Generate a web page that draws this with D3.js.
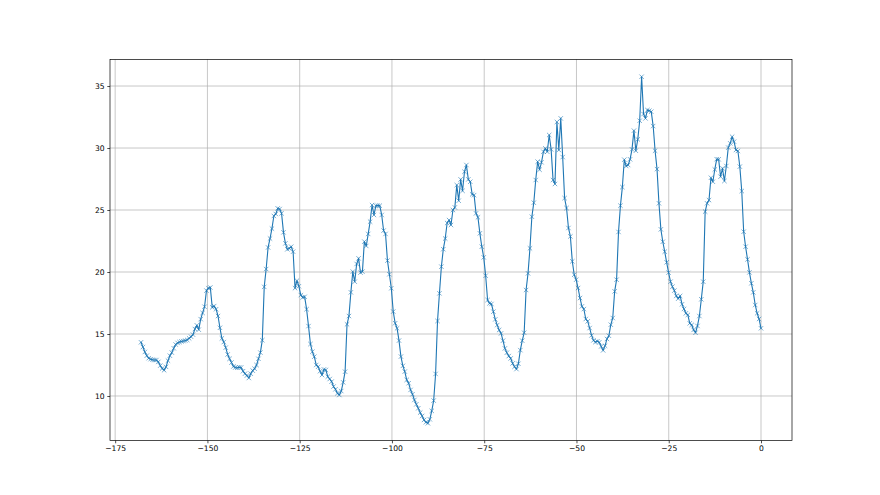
<!DOCTYPE html>
<html>
<head>
<meta charset="utf-8">
<script src="https://cdn.jsdelivr.net/npm/d3@7"></script>
<style>
  html, body { margin: 0; padding: 0; background: #fff; }
  svg { display: block; }
  text { font-family: "DejaVu Sans", sans-serif; }
</style>
</head>
<body>
<svg id="chart" width="880" height="495"></svg>
<script>
// ---- data ----
const startHour = -168;
const endHour = 0;
const values = [
  14.33, 13.95, 13.55, 13.25, 13.05, 12.97, 12.92, 12.9, 12.9,
  12.75, 12.45, 12.22, 12.08, 12.35, 12.85, 13.25, 13.5, 13.85, 14.15,
  14.28, 14.35, 14.4, 14.43, 14.47, 14.52, 14.65, 14.78, 14.95, 15.4,
  15.7, 15.35, 16.2, 16.7, 17.2, 18.5, 18.7, 18.75, 17.15, 17.25,
  17.0, 16.45, 15.5, 14.65, 14.35, 13.9, 13.35, 13.0, 12.7, 12.38,
  12.3, 12.28, 12.31, 12.3, 12.0, 11.8, 11.65, 11.45, 11.8,
  12.05, 12.2, 12.5, 13.0, 13.5, 14.5, 18.8,
  20.24, 21.98, 22.7, 23.5, 24.52, 24.68, 25.13, 25.08, 24.73, 23.2, 22.31, 21.83, 21.9,
  22.04, 21.64, 18.7, 19.3, 18.85, 18.14, 17.95, 18.0, 17.0, 15.64,
  14.19, 13.57, 13.17, 12.5, 12.36, 12.0, 11.69, 12.14, 12.1, 11.56,
  11.37, 11.16, 10.76, 10.54, 10.22, 10.08, 10.4, 11.1, 11.96, 15.78,
  16.45, 18.36, 20.03, 19.22, 20.65, 21.1, 19.95, 20.03, 22.45, 22.1,
  23.07, 24.06, 25.4, 24.6, 25.35, 25.35, 25.35, 24.6, 23.34, 23.07,
  20.92, 19.82, 18.69, 16.81, 15.87, 15.46, 14.47, 13.18, 12.43, 11.97,
  11.3, 11.03, 10.49, 10.14, 9.68, 9.33, 9.01, 8.66, 8.39, 8.07,
  7.88, 7.8, 8.12, 8.8, 9.63, 11.78, 16.05, 18.28, 20.43, 21.84,
  22.7, 23.95, 24.19, 23.79, 25.0, 25.21, 27.01, 25.75, 27.47, 26.55,
  28.09, 28.63, 27.47, 27.28, 26.26, 26.2, 24.73, 24.41, 23.12, 22.04,
  21.18, 19.7, 17.74, 17.47, 17.42, 16.8, 16.18, 15.72, 15.32, 15.05,
  14.46, 13.84, 13.49, 13.22, 13.03, 12.63, 12.36, 12.17, 12.6, 13.7,
  14.46, 15.1, 18.55, 19.89, 21.91, 24.46, 25.59, 27.42, 28.9, 28.25,
  28.85, 29.7, 29.97, 29.7, 31.05, 29.89, 27.42, 27.1, 32.1, 29.84,
  32.39, 29.27, 25.96, 25.16, 23.55, 22.87, 20.86, 19.78, 19.38, 18.71,
  17.9, 17.23, 17.01, 16.21, 16.02, 15.48, 14.89, 14.49, 14.35, 14.41,
  14.33, 14.0, 13.68, 14.05, 14.6, 14.86, 15.75, 16.29, 18.44, 19.38,
  23.23, 25.35, 26.85, 29.06, 28.55, 28.63, 29.09, 29.89, 31.4, 29.78,
  30.7, 32.2, 35.75, 32.74, 32.39, 33.06, 33.01, 32.93, 31.77, 29.78,
  28.3, 25.54, 23.44, 22.44, 21.64, 20.78, 19.95, 19.22, 18.82, 18.5,
  18.07, 17.85, 18.07, 17.4, 17.02, 16.67, 16.54, 15.86, 15.73, 15.33,
  15.1, 15.65, 16.45, 17.8, 19.22, 24.87, 25.54, 25.8, 27.6, 27.28,
  28.27, 29.1, 29.09, 27.69, 28.36, 27.34, 28.55, 30.03, 30.38, 30.91,
  30.51, 29.84, 29.76, 28.5, 26.53, 23.25, 22.04, 21.02, 19.97, 19.09,
  18.36, 17.34, 16.67, 16.21, 15.46
];
const xTicks = [-175, -150, -125, -100, -75, -50, -25, 0];
const yTicks = [10, 15, 20, 25, 30, 35];

(function () {
  // evenly spaced sample times across the week
  const step = (endHour - startHour) / (values.length - 1);
  const points = values.map((v, i) => ({ x: startHour + i * step, y: v }));

  // ---- layout (matplotlib-like default subplot) ----
  const pL = 110, pR = 792, pT = 59.4, pB = 440.6;

  const xExt = d3.extent(points, d => d.x);
  const yExt = d3.extent(points, d => d.y);
  const xPad = (xExt[1] - xExt[0]) * 0.05;
  const yPad = (yExt[1] - yExt[0]) * 0.05;

  const x = d3.scaleLinear().domain([xExt[0] - xPad, xExt[1] + xPad]).range([pL, pR]);
  const y = d3.scaleLinear().domain([yExt[0] - yPad, yExt[1] + yPad]).range([pB, pT]);

  const svg = d3.select("#chart");
  const color = "#1f77b4";
  const fmt = d3.format("");

  // grid
  const grid = svg.append("g");
  grid.selectAll("line.gx").data(xTicks).join("line")
    .attr("x1", d => x(d)).attr("x2", d => x(d))
    .attr("y1", pT).attr("y2", pB)
    .attr("stroke", "#b0b0b0").attr("stroke-width", 0.7);
  grid.selectAll("line.gy").data(yTicks).join("line")
    .attr("x1", pL).attr("x2", pR)
    .attr("y1", d => y(d)).attr("y2", d => y(d))
    .attr("stroke", "#b0b0b0").attr("stroke-width", 0.7);

  // axes
  const xAxis = d3.axisBottom(x).tickValues(xTicks).tickSize(2.7).tickPadding(2.7).tickFormat(fmt);
  const yAxis = d3.axisLeft(y).tickValues(yTicks).tickSize(2.7).tickPadding(2.7).tickFormat(fmt);

  const gx = svg.append("g").attr("transform", `translate(0,${pB})`).call(xAxis);
  const gy = svg.append("g").attr("transform", `translate(${pL},0)`).call(yAxis);
  [gx, gy].forEach(g => {
    g.select(".domain").remove();
    g.selectAll(".tick line").attr("stroke", "#000").attr("stroke-width", 0.7);
    g.selectAll(".tick text").attr("fill", "#000").style("font-size", "7.6px")
      .style("font-family", "'DejaVu Sans', sans-serif");
  });

  // line
  const line = d3.line().x(d => x(d.x)).y(d => y(d.y));
  svg.append("path").datum(points)
    .attr("d", line).attr("fill", "none")
    .attr("stroke", color).attr("stroke-width", 1.1)
    .attr("stroke-linejoin", "round").attr("stroke-linecap", "square");

  // x markers
  const ms = 2.2;
  svg.append("g").selectAll("path").data(points).join("path")
    .attr("d", d => {
      const cx = x(d.x), cy = y(d.y);
      return `M${cx - ms},${cy - ms}L${cx + ms},${cy + ms}M${cx - ms},${cy + ms}L${cx + ms},${cy - ms}`;
    })
    .attr("stroke", color).attr("stroke-width", 0.6).attr("fill", "none");

  // spines
  svg.append("rect")
    .attr("x", pL).attr("y", pT)
    .attr("width", pR - pL).attr("height", pB - pT)
    .attr("fill", "none").attr("stroke", "#000").attr("stroke-width", 0.7);
})();
</script>
</body>
</html>
